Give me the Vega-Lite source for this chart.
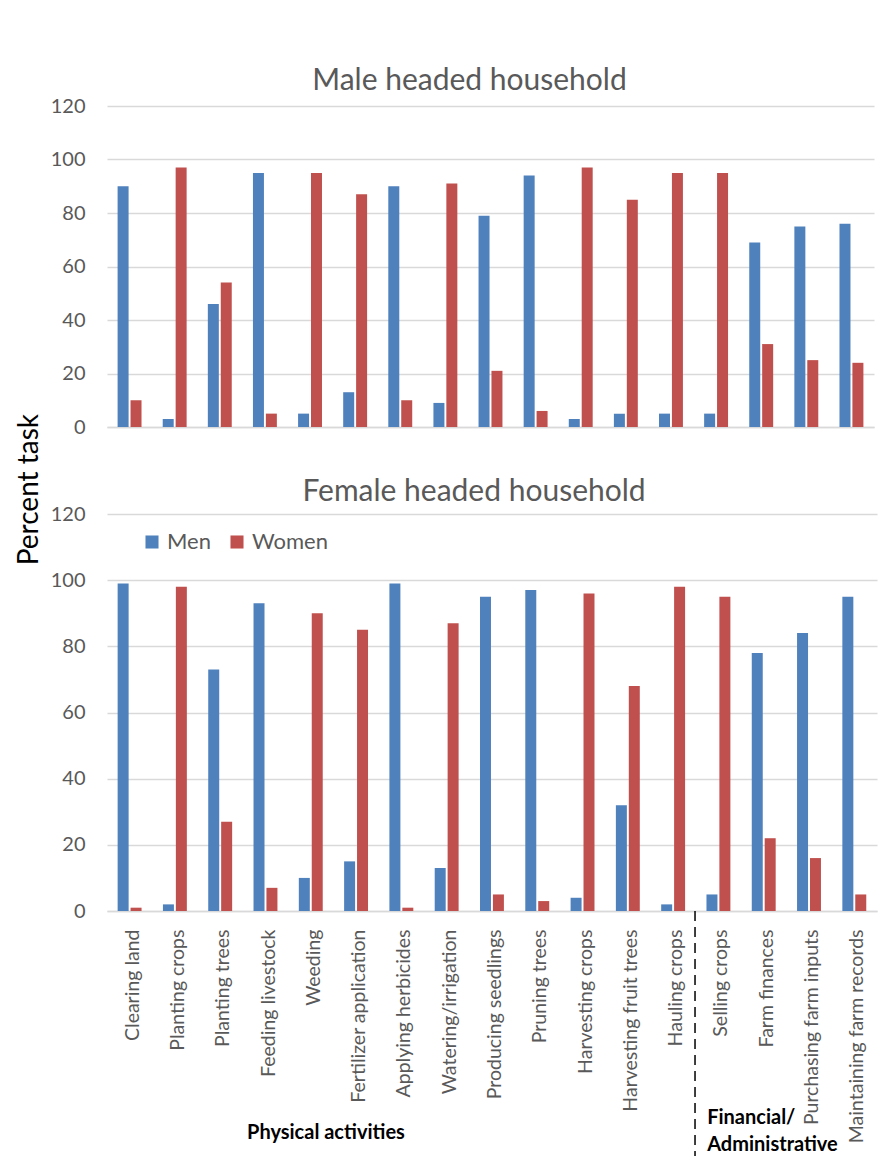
{
  "$schema": "https://vega.github.io/schema/vega-lite/v6.json",
  "background": "white",
  "padding": {"left": 16, "top": 66, "right": 10, "bottom": 0},
  "title": {
    "text": "Percent task",
    "orient": "left",
    "anchor": "middle",
    "font": "Lato",
    "fontSize": 28,
    "fontWeight": "normal",
    "color": "#000000",
    "offset": 6,
    "dx": 125
  },
  "config": {
    "font": "Lato",
    "view": {"stroke": null},
    "axis": {
      "labelFont": "Lato",
      "labelColor": "#595959",
      "gridColor": "#D9D9D9",
      "gridWidth": 1.5,
      "domainColor": "#D9D9D9",
      "domainWidth": 1.5,
      "ticks": false
    },
    "title": {"font": "Lato", "fontWeight": "normal", "color": "#595959", "fontSize": 30, "anchor": "middle"}
  },
  "datasets": {
    "tasks": [
      {"household": "Male headed", "task": "Clearing land", "sex": "Men", "percent": 90},
      {"household": "Male headed", "task": "Clearing land", "sex": "Women", "percent": 10},
      {"household": "Male headed", "task": "Planting crops", "sex": "Men", "percent": 3},
      {"household": "Male headed", "task": "Planting crops", "sex": "Women", "percent": 97},
      {"household": "Male headed", "task": "Planting trees", "sex": "Men", "percent": 46},
      {"household": "Male headed", "task": "Planting trees", "sex": "Women", "percent": 54},
      {"household": "Male headed", "task": "Feeding livestock", "sex": "Men", "percent": 95},
      {"household": "Male headed", "task": "Feeding livestock", "sex": "Women", "percent": 5},
      {"household": "Male headed", "task": "Weeding", "sex": "Men", "percent": 5},
      {"household": "Male headed", "task": "Weeding", "sex": "Women", "percent": 95},
      {"household": "Male headed", "task": "Fertilizer application", "sex": "Men", "percent": 13},
      {"household": "Male headed", "task": "Fertilizer application", "sex": "Women", "percent": 87},
      {"household": "Male headed", "task": "Applying herbicides", "sex": "Men", "percent": 90},
      {"household": "Male headed", "task": "Applying herbicides", "sex": "Women", "percent": 10},
      {"household": "Male headed", "task": "Watering/irrigation", "sex": "Men", "percent": 9},
      {"household": "Male headed", "task": "Watering/irrigation", "sex": "Women", "percent": 91},
      {"household": "Male headed", "task": "Producing seedlings", "sex": "Men", "percent": 79},
      {"household": "Male headed", "task": "Producing seedlings", "sex": "Women", "percent": 21},
      {"household": "Male headed", "task": "Pruning trees", "sex": "Men", "percent": 94},
      {"household": "Male headed", "task": "Pruning trees", "sex": "Women", "percent": 6},
      {"household": "Male headed", "task": "Harvesting crops", "sex": "Men", "percent": 3},
      {"household": "Male headed", "task": "Harvesting crops", "sex": "Women", "percent": 97},
      {"household": "Male headed", "task": "Harvesting fruit trees", "sex": "Men", "percent": 5},
      {"household": "Male headed", "task": "Harvesting fruit trees", "sex": "Women", "percent": 85},
      {"household": "Male headed", "task": "Hauling crops", "sex": "Men", "percent": 5},
      {"household": "Male headed", "task": "Hauling crops", "sex": "Women", "percent": 95},
      {"household": "Male headed", "task": "Selling crops", "sex": "Men", "percent": 5},
      {"household": "Male headed", "task": "Selling crops", "sex": "Women", "percent": 95},
      {"household": "Male headed", "task": "Farm finances", "sex": "Men", "percent": 69},
      {"household": "Male headed", "task": "Farm finances", "sex": "Women", "percent": 31},
      {"household": "Male headed", "task": "Purchasing farm inputs", "sex": "Men", "percent": 75},
      {"household": "Male headed", "task": "Purchasing farm inputs", "sex": "Women", "percent": 25},
      {"household": "Male headed", "task": "Maintaining farm records", "sex": "Men", "percent": 76},
      {"household": "Male headed", "task": "Maintaining farm records", "sex": "Women", "percent": 24},
      {"household": "Female headed", "task": "Clearing land", "sex": "Men", "percent": 99},
      {"household": "Female headed", "task": "Clearing land", "sex": "Women", "percent": 1},
      {"household": "Female headed", "task": "Planting crops", "sex": "Men", "percent": 2},
      {"household": "Female headed", "task": "Planting crops", "sex": "Women", "percent": 98},
      {"household": "Female headed", "task": "Planting trees", "sex": "Men", "percent": 73},
      {"household": "Female headed", "task": "Planting trees", "sex": "Women", "percent": 27},
      {"household": "Female headed", "task": "Feeding livestock", "sex": "Men", "percent": 93},
      {"household": "Female headed", "task": "Feeding livestock", "sex": "Women", "percent": 7},
      {"household": "Female headed", "task": "Weeding", "sex": "Men", "percent": 10},
      {"household": "Female headed", "task": "Weeding", "sex": "Women", "percent": 90},
      {"household": "Female headed", "task": "Fertilizer application", "sex": "Men", "percent": 15},
      {"household": "Female headed", "task": "Fertilizer application", "sex": "Women", "percent": 85},
      {"household": "Female headed", "task": "Applying herbicides", "sex": "Men", "percent": 99},
      {"household": "Female headed", "task": "Applying herbicides", "sex": "Women", "percent": 1},
      {"household": "Female headed", "task": "Watering/irrigation", "sex": "Men", "percent": 13},
      {"household": "Female headed", "task": "Watering/irrigation", "sex": "Women", "percent": 87},
      {"household": "Female headed", "task": "Producing seedlings", "sex": "Men", "percent": 95},
      {"household": "Female headed", "task": "Producing seedlings", "sex": "Women", "percent": 5},
      {"household": "Female headed", "task": "Pruning trees", "sex": "Men", "percent": 97},
      {"household": "Female headed", "task": "Pruning trees", "sex": "Women", "percent": 3},
      {"household": "Female headed", "task": "Harvesting crops", "sex": "Men", "percent": 4},
      {"household": "Female headed", "task": "Harvesting crops", "sex": "Women", "percent": 96},
      {"household": "Female headed", "task": "Harvesting fruit trees", "sex": "Men", "percent": 32},
      {"household": "Female headed", "task": "Harvesting fruit trees", "sex": "Women", "percent": 68},
      {"household": "Female headed", "task": "Hauling crops", "sex": "Men", "percent": 2},
      {"household": "Female headed", "task": "Hauling crops", "sex": "Women", "percent": 98},
      {"household": "Female headed", "task": "Selling crops", "sex": "Men", "percent": 5},
      {"household": "Female headed", "task": "Selling crops", "sex": "Women", "percent": 95},
      {"household": "Female headed", "task": "Farm finances", "sex": "Men", "percent": 78},
      {"household": "Female headed", "task": "Farm finances", "sex": "Women", "percent": 22},
      {"household": "Female headed", "task": "Purchasing farm inputs", "sex": "Men", "percent": 84},
      {"household": "Female headed", "task": "Purchasing farm inputs", "sex": "Women", "percent": 16},
      {"household": "Female headed", "task": "Maintaining farm records", "sex": "Men", "percent": 95},
      {"household": "Female headed", "task": "Maintaining farm records", "sex": "Women", "percent": 5}
    ]
  },
  "spacing": 40,
  "resolve": {"legend": {"color": "independent"}},
  "vconcat": [
    {
      "width": 767,
      "height": 321,
      "title": {"text": "Male headed household", "offset": 0, "dx": -21},
      "data": {"name": "tasks"},
      "transform": [{"filter": "datum.household === 'Male headed'"}],
      "mark": {"type": "bar"},
      "encoding": {
        "x": {
          "field": "task",
          "type": "nominal",
          "scale": {
            "domain": ["Clearing land", "Planting crops", "Planting trees", "Feeding livestock", "Weeding", "Fertilizer application", "Applying herbicides", "Watering/irrigation", "Producing seedlings", "Pruning trees", "Harvesting crops", "Harvesting fruit trees", "Hauling crops", "Selling crops", "Farm finances", "Purchasing farm inputs", "Maintaining farm records"],
            "paddingInner": 0.47,
            "paddingOuter": 0.235
          },
          "axis": {"labels": false, "title": null}
        },
        "xOffset": {"field": "sex", "scale": {"paddingInner": 0.15}},
        "y": {
          "field": "percent",
          "type": "quantitative",
          "scale": {"domain": [0, 120]},
          "axis": {"values": [0, 20, 40, 60, 80, 100, 120], "title": null, "domain": false, "labelFontSize": 20, "labelPadding": 22}
        },
        "color": {
          "field": "sex",
          "scale": {"domain": ["Men", "Women"], "range": ["#4F81BD", "#C0504D"]},
          "legend": null
        }
      }
    },
    {
      "width": 770,
      "height": 397,
      "title": {"text": "Female headed household", "offset": -3, "dx": -18},
      "layer": [
        {
          "data": {"name": "tasks"},
          "transform": [{"filter": "datum.household === 'Female headed'"}],
          "mark": {"type": "bar"},
          "encoding": {
            "x": {
              "field": "task",
              "type": "nominal",
              "scale": {
                "domain": ["Clearing land", "Planting crops", "Planting trees", "Feeding livestock", "Weeding", "Fertilizer application", "Applying herbicides", "Watering/irrigation", "Producing seedlings", "Pruning trees", "Harvesting crops", "Harvesting fruit trees", "Hauling crops", "Selling crops", "Farm finances", "Purchasing farm inputs", "Maintaining farm records"],
                "paddingInner": 0.47,
                "paddingOuter": 0.235
              },
              "axis": {"title": null, "labelAngle": -90, "labelFontSize": 19.5, "labelPadding": 18, "labelOffset": 3, "labelLimit": 300}
            },
            "xOffset": {"field": "sex", "scale": {"paddingInner": 0.15}},
            "y": {
              "field": "percent",
              "type": "quantitative",
              "scale": {"domain": [0, 120]},
              "axis": {"values": [0, 20, 40, 60, 80, 100, 120], "title": null, "domain": false, "labelFontSize": 20, "labelPadding": 22}
            },
            "color": {
              "field": "sex",
              "scale": {"domain": ["Men", "Women"], "range": ["#4F81BD", "#C0504D"]},
              "legend": {
                "title": null,
                "orient": "none",
                "direction": "horizontal",
                "legendX": 34,
                "legendY": 17,
                "padding": 0,
                "symbolType": "square",
                "symbolSize": 170,
                "symbolStrokeWidth": 0,
                "labelFont": "Lato",
                "labelFontSize": 22,
                "labelColor": "#595959",
                "labelOffset": 4,
                "columnPadding": 15
              }
            }
          }
        },
        {
          "data": {"values": [{"divider": "group boundary"}]},
          "mark": {"type": "rule", "color": "#000000", "strokeWidth": 1.5, "strokeDash": [10, 6]},
          "encoding": {
            "x": {"datum": "Hauling crops", "type": "nominal", "bandPosition": 1.41},
            "y": {"datum": 0, "type": "quantitative"},
            "y2": {"datum": -76}
          }
        },
        {
          "data": {"values": [{"group": "Physical activities"}]},
          "mark": {"type": "text", "font": "Lato", "fontWeight": "bold", "fontSize": 20, "color": "#000000", "align": "center", "baseline": "middle"},
          "encoding": {
            "x": {"datum": "Weeding", "type": "nominal", "bandPosition": 1.13},
            "y": {"datum": -67, "type": "quantitative"},
            "text": {"field": "group"}
          }
        },
        {
          "data": {"values": [{"group": "Financial/\nAdministrative"}]},
          "mark": {"type": "text", "font": "Lato", "fontWeight": "bold", "fontSize": 20, "color": "#000000", "align": "left", "baseline": "top", "lineBreak": "\n", "lineHeight": 27},
          "encoding": {
            "x": {"datum": "Selling crops", "type": "nominal", "bandPosition": 0.03},
            "y": {"datum": -59.5, "type": "quantitative"},
            "text": {"field": "group"}
          }
        }
      ]
    }
  ]
}
